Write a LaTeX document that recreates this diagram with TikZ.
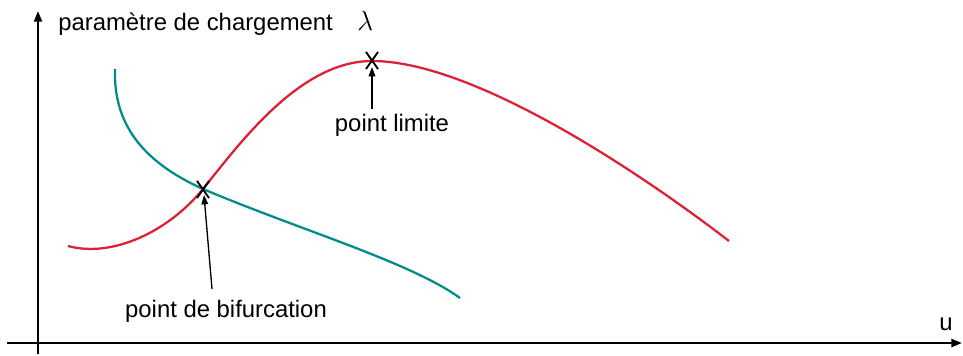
\documentclass[tikz,border=0pt]{standalone}
\usepackage{fontspec}
\setmainfont{Liberation Sans}
\usetikzlibrary{arrows.meta}
\definecolor{redc}{RGB}{222,32,52}
\definecolor{tealc}{RGB}{0,140,138}
\begin{document}
\begin{tikzpicture}[x=0.75pt,y=-0.75pt,
  lbl/.style={font=\fontsize{17.9}{20}\selectfont,inner sep=0pt},
  axis/.style={line width=1.6pt,-{Triangle[length=8pt,width=6pt]}},
  curve/.style={line width=1.7pt},
  ptr/.style={line width=1pt,-{Triangle[length=7pt,width=5pt]}},
  crossmk/.style={line width=1.4pt,black}]
\useasboundingbox (0,0) rectangle (963,356);
% axes
\coordinate (ybot) at (38,354);
\coordinate (ytop) at (38,11);
\coordinate (xleft) at (7,343);
\coordinate (xright) at (962,343);
\draw[axis] (ybot) -- (ytop);
\draw[axis] (xleft) -- (xright);
% curves
\coordinate (limp) at (372,61);
\coordinate (bifp) at (203,189);
\draw[curve,redc] (68,246) .. controls (112,258) and (168,232) .. (bifp)
  .. controls (240,143) and (300,61) .. (limp)
  .. controls (470,61) and (630,165) .. (729,241);
\draw[curve,tealc] (115,69) .. controls (113,130) and (150,165) .. (bifp)
  .. controls (300,230) and (410,262) .. (460,298);
% crosses
\draw[crossmk] (366,52) -- (378,69) (366,69) -- (378,52);
\draw[crossmk] (197,181) -- (209,198) (197,198) -- (209,181);
% labels
\node[lbl,anchor=base west] (ylab) at (58,31) {paramètre de chargement};
\node[lbl,anchor=base west] (lam) at (357,31) {\fontsize{20}{22}\selectfont$\lambda$};
\node[lbl,anchor=base] (lim) at (392,132) {point limite};
\node[lbl,anchor=base] (bif) at (226,317) {point de bifurcation};
\node[lbl,anchor=base] (ulab) at (946,330) {u};
% pointers
\draw[ptr] (lim.north -| limp) ++(0,-5) coordinate (lstart) -- (372,67);
\draw[ptr] (212,289) -- (204,195);
\end{tikzpicture}
\end{document}
